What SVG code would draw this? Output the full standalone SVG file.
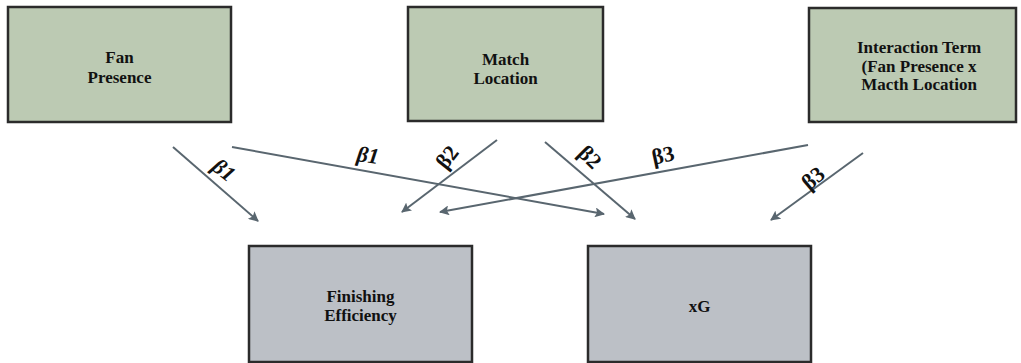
<svg xmlns="http://www.w3.org/2000/svg" width="1021" height="363" viewBox="0 0 1021 363">
<style>
.box{stroke:#2b2b2b;stroke-width:2.5}
.g{fill:#bccab3}
.s{fill:#bcc0c6}
text{font-family:'Liberation Serif','DejaVu Serif','Times New Roman',serif;font-weight:bold;fill:#111;text-anchor:middle}
.t{font-size:17px}
.b{font-size:22px;dominant-baseline:central}
.i{font-style:italic}
.c{stroke:#59666f;stroke-width:2;fill:none;marker-end:url(#ah)}
</style>
<defs>
<marker id="ah" viewBox="0 0 10 10" refX="9" refY="5" markerWidth="5" markerHeight="5" orient="auto" markerUnits="strokeWidth">
<path d="M0,0 L10,5 L0,10 L2,5 z" fill="#59666f"/>
</marker>
</defs>
<rect width="1021" height="363" fill="#fff"/>
<g id="fan-presence">
<rect class="box g" x="8" y="7" width="223" height="115"/>
<text class="t" x="119.5" y="63" font-family="Liberation Serif, serif">Fan</text>
<text class="t" x="119.5" y="83" font-family="Liberation Serif, serif">Presence</text>
</g>
<g id="match-location">
<rect class="box g" x="408" y="7" width="195" height="114"/>
<text class="t" x="505.5" y="65">Match</text>
<text class="t" x="505.5" y="84">Location</text>
</g>
<g id="interaction-term">
<rect class="box g" x="809" y="8" width="207" height="114"/>
<text class="t" x="919" y="53">Interaction Term</text>
<text class="t" x="919" y="72">(Fan Presence x</text>
<text class="t" x="919" y="90">Macth Location</text>
</g>
<g id="finishing-efficiency">
<rect class="box s" x="249" y="246" width="223" height="116"/>
<text class="t" x="360.5" y="302">Finishing</text>
<text class="t" x="360.5" y="321">Efficiency</text>
</g>
<g id="xg">
<rect class="box s" x="588" y="246" width="223" height="116"/>
<text class="t" x="699.5" y="312">xG</text>
</g>
<g id="connectors">
<line class="c" x1="173" y1="147" x2="258" y2="221"/>
<line class="c" x1="232" y1="147" x2="604" y2="214"/>
<line class="c" x1="497" y1="140" x2="402" y2="212"/>
<line class="c" x1="545" y1="142" x2="635" y2="219"/>
<line class="c" x1="808" y1="145" x2="440" y2="212"/>
<line class="c" x1="863" y1="153" x2="771" y2="220"/>
<text class="b i" transform="translate(224,170) rotate(38)">β1</text>
<text class="b i" transform="translate(368,155) rotate(8)">β1</text>
<text class="b" transform="translate(447,157) rotate(-52)">β2</text>
<text class="b" transform="translate(590,157) rotate(45)">β2</text>
<text class="b" transform="translate(663,155) rotate(-12)">β3</text>
<text class="b" transform="translate(813,178) rotate(-40)">β3</text>
</g>
</svg>
